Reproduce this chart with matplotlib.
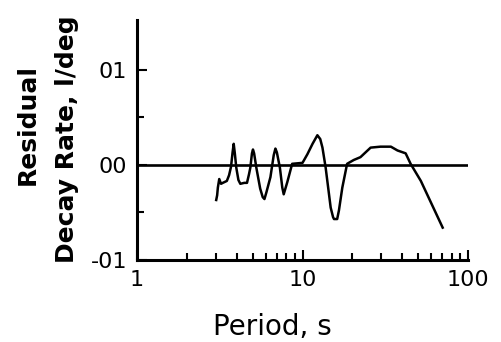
import matplotlib
matplotlib.use("Agg")
from matplotlib import pyplot
from matplotlib.ticker import FixedLocator, NullFormatter

# residual decay rate vs period
period = [3.01, 3.05, 3.08, 3.14, 3.22, 3.30, 3.49, 3.60, 3.70, 3.78, 3.84,
          3.90, 3.98, 4.10, 4.21, 4.45, 4.62, 4.75, 4.84, 4.95, 5.02, 5.10,
          5.26, 5.55, 5.75, 5.89, 6.05, 6.40, 6.70, 6.86, 7.00, 7.30, 7.55,
          7.70, 8.10, 8.66, 10.0, 10.7, 11.5, 12.3, 12.8, 13.2, 13.8, 14.8,
          15.3, 15.5, 16.2, 16.6, 17.4, 18.6, 20.4, 22.4, 25.8, 29.6, 34.2,
          37.5, 42.0, 45.0, 51.9, 70.3]
rate = [-0.0037, -0.0032, -0.0024, -0.0015, -0.0020, -0.0019, -0.0017,
        -0.0011, -0.0002, 0.0013, 0.0022, 0.0012, -0.0003, -0.0016,
        -0.0020, -0.0019, -0.0019, -0.0010, -0.0003, 0.0012, 0.0016, 0.0012,
        -0.0003, -0.0025, -0.0034, -0.0036, -0.0029, -0.0013, 0.0010, 0.0017,
        0.0013, -0.0003, -0.0024, -0.0031, -0.0018, 0.0001, 0.0002, 0.0011,
        0.0022, 0.0031, 0.0027, 0.0018, -0.0003, -0.0045, -0.0055, -0.0057,
        -0.0057, -0.0048, -0.0024, 0.0001, 0.0005, 0.0008, 0.0018, 0.0019,
        0.0019, 0.0015, 0.0012, 0.0001, -0.0017, -0.0066]

ytick_values = [-0.01, 0.0, 0.01]
ytick_labels = ["-01", "00", "01"]
xtick_values = [1, 10, 100]
xtick_labels = ["1", "10", "100"]

pyplot.rcParams['font.family'] = ['DejaVu Sans']
figure = pyplot.figure(figsize=(5.01, 3.42), dpi=100)
axis = figure.add_axes([137 / 501, 1 - 260 / 342, 331 / 501, 240 / 342])

axis.plot(period, rate, color='black', linewidth=1.8)
axis.axhline(0.0, color='black', linewidth=1.9)

axis.set_xscale('log')
axis.set_xlim(1, 100)
axis.set_ylim(-0.01, 0.0152)

axis.xaxis.set_major_locator(FixedLocator(xtick_values))
axis.set_xticklabels(xtick_labels)
axis.xaxis.set_minor_locator(FixedLocator(
    [m * d for d in (1, 10) for m in range(2, 10)]))
axis.xaxis.set_minor_formatter(NullFormatter())
axis.set_yticks(ytick_values, ytick_labels)
axis.set_yticks([-0.005, 0.005], minor=True)

axis.tick_params(axis='both', which='both', direction='in', width=1.5,
                 labelsize=16, colors='black')
axis.tick_params(axis='both', which='major', length=7, pad=7)
axis.tick_params(axis='both', which='minor', length=5)

for side in ('top', 'right'):
    axis.spines[side].set_visible(False)
for side in ('left', 'bottom'):
    axis.spines[side].set_linewidth(2.2)

axis.set_xlabel("Period, s", fontsize=20)
axis.xaxis.set_label_coords(0.41, -0.22)
figure.text(28 / 501, 1 - 125 / 342, "Residual", rotation=90,
            ha='center', va='center', fontsize=18, fontweight='bold')
figure.text(67 / 501, 1 - 139 / 342, "Decay Rate, l/deg", rotation=90,
            ha='center', va='center', fontsize=18, fontweight='bold')

pyplot.savefig("out.png", dpi=100)
